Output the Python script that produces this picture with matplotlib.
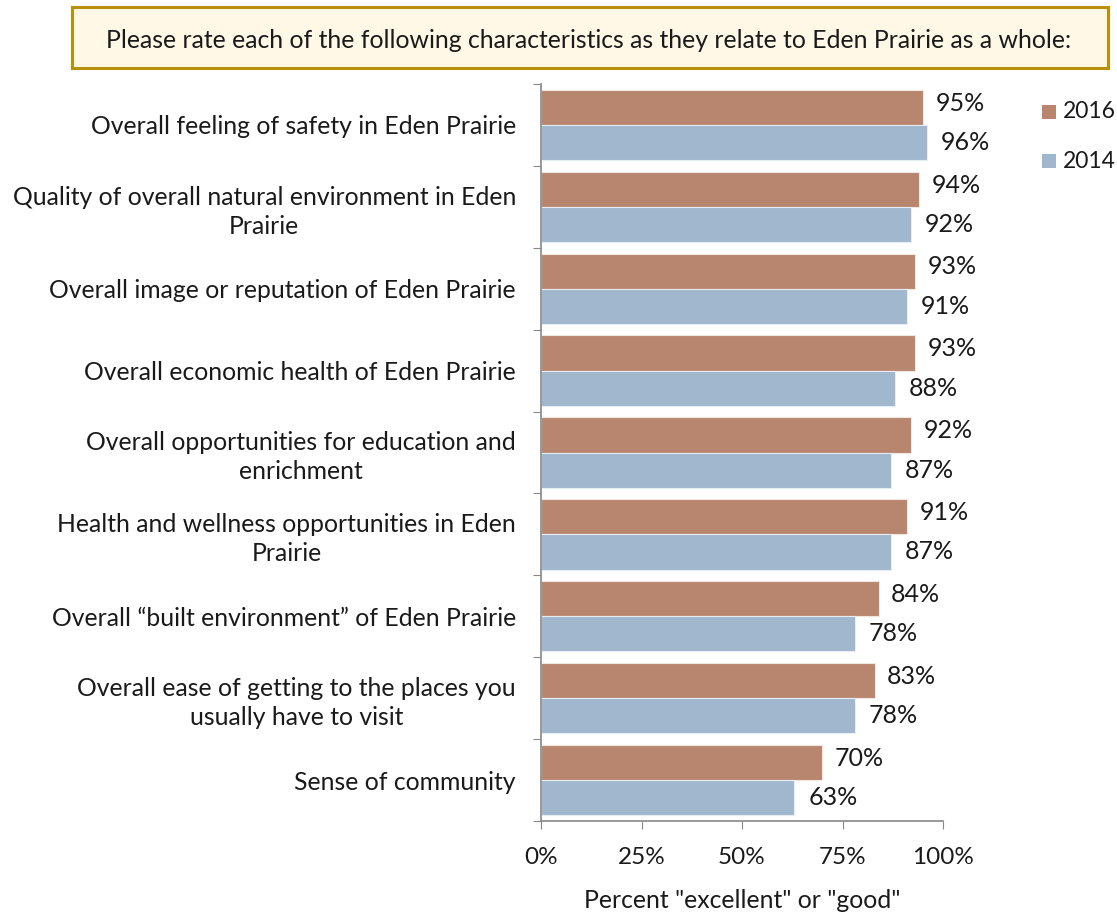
import matplotlib
matplotlib.use("Agg")
import matplotlib.pyplot as plt
from matplotlib.patches import Rectangle
import numpy as np

plt.rcParams['font.family'] = ['Lato', 'DejaVu Sans']

categories = [
    "Overall feeling of safety in Eden Prairie",
    "Quality of overall natural environment in Eden\nPrairie",
    "Overall image or reputation of Eden Prairie",
    "Overall economic health of Eden Prairie",
    "Overall opportunities for education and\nenrichment",
    "Health and wellness opportunities in Eden\nPrairie",
    "Overall \u201cbuilt environment\u201d of Eden Prairie",
    "Overall ease of getting to the places you\nusually have to visit",
    "Sense of community",
]
values_2016 = [95, 94, 93, 93, 92, 91, 84, 83, 70]
values_2014 = [96, 92, 91, 88, 87, 87, 78, 78, 63]
xtick_values = [0, 25, 50, 75, 100]
title_text = "Please rate each of the following characteristics as they relate to Eden Prairie as a whole:"
xlabel_text = 'Percent "excellent" or "good"'

color_2016 = "#B8856F"
color_2014 = "#A1B7CE"
axis_gray = "#888888"
text_color = "#1a1a1a"

W, H = 1117, 915
fig = plt.figure(figsize=(W / 100, H / 100), dpi=100)
ax = fig.add_axes([541 / W, 1 - 821 / H, (943 - 541) / W, (821 - 84) / H])

y = np.arange(len(categories))
bh = 0.43
ax.barh(y - bh / 2, values_2016, height=bh, color=color_2016,
        edgecolor="#F2E6E0", linewidth=0.8, label="2016")
ax.barh(y + bh / 2, values_2014, height=bh, color=color_2014,
        edgecolor="#E6EDF4", linewidth=0.8, label="2014")

for yi, v in zip(y - bh / 2, values_2016):
    ax.annotate(f"{v}%", (v, yi), xytext=(9, 3), textcoords="offset points",
                ha="left", va="center", fontsize=18, color=text_color)
for yi, v in zip(y + bh / 2, values_2014):
    ax.annotate(f"{v}%", (v, yi), xytext=(10, 0), textcoords="offset points",
                ha="left", va="center", fontsize=18, color=text_color)

ax.set_xlim(0, 100)
ax.set_ylim(len(categories) - 0.5, -0.5)

ax.set_xticks(xtick_values)
ax.set_xticklabels([f"{t}%" for t in xtick_values], fontsize=17.5, color=text_color)
ax.tick_params(axis="x", length=6, color=axis_gray, pad=13)

# category boundaries carry tick marks, labels sit at category centers
ax.set_yticks(np.arange(len(categories) + 1) - 0.5)
ax.set_yticklabels([])
ax.tick_params(axis="y", which="major", length=6, color=axis_gray)
ax.set_yticks(y, minor=True)
ax.set_yticklabels(categories, minor=True, fontsize=17.8, color=text_color,
                   multialignment="center", linespacing=1.3)
ax.tick_params(axis="y", which="minor", length=0, pad=18)

for s in ["top", "right"]:
    ax.spines[s].set_visible(False)
for s in ["left", "bottom"]:
    ax.spines[s].set_color(axis_gray)
    ax.spines[s].set_linewidth(1.2)

ax.set_xlabel(xlabel_text, fontsize=17.8, color=text_color, labelpad=15)

# legend entries
for label, color, ly in [("2016", color_2016, 112), ("2014", color_2014, 161)]:
    fig.patches.append(Rectangle((1042 / W, 1 - (ly + 7) / H), 14 / W, 14 / H,
                                 transform=fig.transFigure, facecolor=color,
                                 edgecolor="none"))
    fig.text(1063 / W, 1 - ly / H, label, fontsize=16.5, color=text_color,
             ha="left", va="center")

# question box across the top
fig.patches.append(Rectangle((72 / W, 1 - 68 / H), (1108 - 72) / W, (68 - 7) / H,
                             transform=fig.transFigure, facecolor="#FFF8E6",
                             edgecolor="#B8900C", linewidth=2.2))
fig.text(589 / W, 1 - 40 / H, title_text, fontsize=17.8, color=text_color,
         ha="center", va="center")

fig.savefig("out.png", dpi=100)
